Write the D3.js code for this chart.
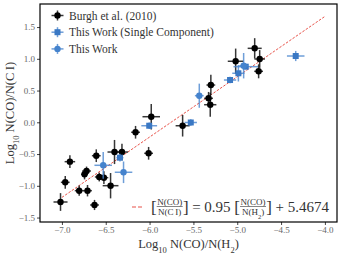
<!DOCTYPE html>
<html>
<head>
<meta charset="utf-8">
<script src="https://d3js.org/d3.v7.min.js"></script>
<style>
  body { margin: 0; background: #fff; }
  svg text { font-family: "Liberation Serif", "DejaVu Serif", serif; }
</style>
</head>
<body>
<script>
// Burgh et al. (2010)
var burghX = [-7.016, -6.962, -6.909, -6.803, -6.708, -6.628, -6.742, -6.719, -6.608, -6.574, -6.521, -6.445, -6.400, -6.315, -6.160, -5.981, -6.011, -5.623, -5.327, -5.301, -5.308, -5.018, -4.801, -4.744, -4.756];
var burghY = [-1.255, -0.945, -0.620, -1.077, -1.077, -1.302, -0.819, -0.767, -0.526, -0.861, -0.872, -0.998, -0.468, -0.468, -0.157, 0.088, -0.488, -0.054, 0.378, 0.587, 0.277, 0.961, 1.165, 0.997, 0.803];
var burghXerr = [0.08, 0.05, 0.06, 0.05, 0.05, 0.05, 0.04, 0.05, 0.05, 0.05, 0.05, 0.09, 0.08, 0.07, 0.05, 0.10, 0.05, 0.08, 0.05, 0.05, 0.07, 0.09, 0.08, 0.06, 0.05];
var burghYerr = [0.14, 0.10, 0.10, 0.08, 0.09, 0.08, 0.08, 0.07, 0.10, 0.07, 0.10, 0.20, 0.19, 0.13, 0.10, 0.20, 0.10, 0.17, 0.10, 0.16, 0.19, 0.20, 0.16, 0.14, 0.11];

// This Work (Single Component)
var singleX = [-6.338, -6.004, -5.530, -5.082, -4.987, -4.903, -4.333];
var singleY = [-0.557, -0.054, -0.003, 0.666, 0.772, 0.876, 1.044];
var singleXerr = [0.04, 0.09, 0.07, 0.07, 0.07, 0.14, 0.10];
var singleYerr = [0.06, 0.05, 0.05, 0.05, 0.13, 0.04, 0.08];

// This Work
var workX = [-6.529, -6.297, -5.433, -4.927];
var workY = [-0.677, -0.787, 0.419, 0.891];
var workXerr = [0.10, 0.10, 0.05, 0.05];
var workYerr = [0.21, 0.17, 0.19, 0.20];

// fit: 0.95 x + 5.4674
var fitSlope = 0.95, fitIcpt = 5.4674;
var fitRange = [-7.0, -4.0];

var xTicks = [-7.0, -6.5, -6.0, -5.5, -5.0, -4.5, -4.0];
var yTicks = [-1.5, -1.0, -0.5, 0.0, 0.5, 1.0, 1.5];

var w = 342, h = 255;
var mL = 40, mR = 337, mT = 4, mB = 222;

var x = d3.scaleLinear().domain([-7.25, -3.862]).range([mL, mR]);
var y = d3.scaleLinear().domain([-1.57, 1.863]).range([mB, mT]);

var svg = d3.select("body").append("svg")
  .attr("width", w).attr("height", h);

var fmt = function(d) { return d3.format(".1f")(d).replace("-", "\u2212"); };

svg.append("g")
  .attr("transform", "translate(0," + mB + ")")
  .call(d3.axisBottom(x).tickValues(xTicks).tickFormat(fmt).tickSize(3).tickPadding(2))
  .call(function(g) {
    g.select(".domain").remove();
    g.selectAll("line").attr("stroke", "#444");
    g.selectAll("text").attr("fill", "#666").style("font-size", "9px");
  });

svg.append("g")
  .attr("transform", "translate(" + mL + ",0)")
  .call(d3.axisLeft(y).tickValues(yTicks).tickFormat(fmt).tickSize(3).tickPadding(2))
  .call(function(g) {
    g.select(".domain").remove();
    g.selectAll("line").attr("stroke", "#444");
    g.selectAll("text").attr("fill", "#666").style("font-size", "9px");
  });

// fit line
svg.append("line")
  .attr("x1", x(fitRange[0])).attr("y1", y(fitSlope * fitRange[0] + fitIcpt))
  .attr("x2", x(fitRange[1])).attr("y2", y(fitSlope * fitRange[1] + fitIcpt))
  .attr("stroke", "#e8534a").attr("stroke-width", 1)
  .attr("stroke-dasharray", "2.5,1.5");

function drawSeries(xs, ys, xe, ye, barColor, markColor, shape) {
  var g = svg.append("g");
  var data = xs.map(function(d, i) { return {x: d, y: ys[i], xe: xe[i], ye: ye[i]}; });
  g.selectAll("line.xe").data(data).enter().append("line")
    .attr("x1", function(d) { return x(d.x - d.xe); })
    .attr("x2", function(d) { return x(d.x + d.xe); })
    .attr("y1", function(d) { return y(d.y); })
    .attr("y2", function(d) { return y(d.y); })
    .attr("stroke", barColor).attr("stroke-width", 1.5);
  g.selectAll("line.ye").data(data).enter().append("line")
    .attr("x1", function(d) { return x(d.x); })
    .attr("x2", function(d) { return x(d.x); })
    .attr("y1", function(d) { return y(d.y - d.ye); })
    .attr("y2", function(d) { return y(d.y + d.ye); })
    .attr("stroke", barColor).attr("stroke-width", 1.5);
  if (shape == "square") {
    g.selectAll("rect").data(data).enter().append("rect")
      .attr("x", function(d) { return x(d.x) - 3; })
      .attr("y", function(d) { return y(d.y) - 3; })
      .attr("width", 6).attr("height", 6)
      .attr("fill", markColor);
  } else {
    g.selectAll("circle").data(data).enter().append("circle")
      .attr("cx", function(d) { return x(d.x); })
      .attr("cy", function(d) { return y(d.y); })
      .attr("r", 3.2)
      .attr("fill", markColor);
  }
}

var blackBar = "rgba(20,20,20,0.85)", blueBar = "rgba(74,134,206,0.8)";
drawSeries(burghX, burghY, burghXerr, burghYerr, blackBar, "#000", "circle");
drawSeries(singleX, singleY, singleXerr, singleYerr, blueBar, "#3a78c4", "square");
drawSeries(workX, workY, workXerr, workYerr, blueBar, "#4583cd", "circle");

// frame
svg.append("rect")
  .attr("x", mL).attr("y", mT)
  .attr("width", mR - mL).attr("height", mB - mT)
  .attr("fill", "none").attr("stroke", "#000").attr("stroke-width", 1.2);

// legend
var legItems = [
  {label: "Burgh et al. (2010)", bar: blackBar, mark: "#000", shape: "circle"},
  {label: "This Work (Single Component)", bar: blueBar, mark: "#3a78c4", shape: "square"},
  {label: "This Work", bar: blueBar, mark: "#4583cd", shape: "circle"}
];
var leg = svg.append("g");
legItems.forEach(function(d, i) {
  var cy = 15.5 + i * 16.7, cx = 57.5;
  leg.append("line").attr("x1", cx - 6).attr("x2", cx + 6).attr("y1", cy).attr("y2", cy)
    .attr("stroke", d.bar).attr("stroke-width", 1.5);
  leg.append("line").attr("x1", cx).attr("x2", cx).attr("y1", cy - 5).attr("y2", cy + 5)
    .attr("stroke", d.bar).attr("stroke-width", 1.5);
  if (d.shape == "square") {
    leg.append("rect").attr("x", cx - 3).attr("y", cy - 3).attr("width", 6).attr("height", 6).attr("fill", d.mark);
  } else {
    leg.append("circle").attr("cx", cx).attr("cy", cy).attr("r", 3.2).attr("fill", d.mark);
  }
  leg.append("text").attr("x", 69).attr("y", cy + 4)
    .attr("fill", "#333").style("font-size", "11.5px").text(d.label);
});

// equation legend
var eq = svg.append("g");
var ey = 207;
eq.append("line").attr("x1", 132).attr("x2", 143).attr("y1", ey).attr("y2", ey)
  .attr("stroke", "#e8534a").attr("stroke-width", 1.2).attr("stroke-dasharray", "4,2");

var cursor = 151;
function piece(str, size, dy) {
  var t = eq.append("text").attr("x", cursor).attr("y", ey + dy)
    .attr("fill", "#333").style("font-size", size + "px")
    .attr("xml:space", "preserve").text(str);
  cursor += t.node().getComputedTextLength();
  return t;
}
function bracket(str) {
  var t = eq.append("text").attr("x", cursor).attr("y", ey + 5.5)
    .attr("fill", "#333").style("font-size", "17px").text(str);
  cursor += t.node().getComputedTextLength() * 0.95;
}
function frac(num, den) {
  var g = eq.append("g");
  var tn = g.append("text").attr("y", ey - 2).attr("text-anchor", "middle")
    .attr("fill", "#333").style("font-size", "9px").text(num);
  var td = g.append("text").attr("y", ey + 8).attr("text-anchor", "middle")
    .attr("fill", "#333").style("font-size", "9px");
  den.forEach(function(p) {
    td.append("tspan").attr("baseline-shift", p.sub ? "sub" : null)
      .style("font-size", p.sub ? "6.5px" : null).text(p.t);
  });
  var wd = Math.max(tn.node().getComputedTextLength(), td.node().getComputedTextLength());
  var mid = cursor + wd / 2 + 0.8;
  tn.attr("x", mid); td.attr("x", mid);
  g.append("line").attr("x1", cursor + 0.3).attr("x2", cursor + wd + 1.3)
    .attr("y1", ey - 0.5).attr("y2", ey - 0.5).attr("stroke", "#333").attr("stroke-width", 0.6);
  cursor += wd + 1.6;
}
bracket("[");
frac("N(CO)", [{t: "N(C\u2009I)"}]);
bracket("]");
piece(" = 0.95 ", 15, 4.5);
bracket("[");
frac("N(CO)", [{t: "N(H"}, {t: "2", sub: true}, {t: ")"}]);
bracket("]");
piece(" + 5.4674", 15, 4.5);

// axis labels
var xl = svg.append("text").attr("x", (mL + mR) / 2).attr("y", 248)
  .attr("text-anchor", "middle").attr("fill", "#333").style("font-size", "12.5px");
xl.append("tspan").text("Log");
xl.append("tspan").attr("baseline-shift", "sub").style("font-size", "8.5px").text("10");
xl.append("tspan").text(" N(CO)/N(H");
xl.append("tspan").attr("baseline-shift", "sub").style("font-size", "8.5px").text("2");
xl.append("tspan").text(")");

var yl = svg.append("text")
  .attr("transform", "translate(14," + (mT + mB) / 2 + ") rotate(-90)")
  .attr("text-anchor", "middle").attr("fill", "#333").style("font-size", "12.5px");
yl.append("tspan").text("Log");
yl.append("tspan").attr("baseline-shift", "sub").style("font-size", "8.5px").text("10");
yl.append("tspan").text(" N(CO)/N(C\u2009I)");
</script>
</body>
</html>
